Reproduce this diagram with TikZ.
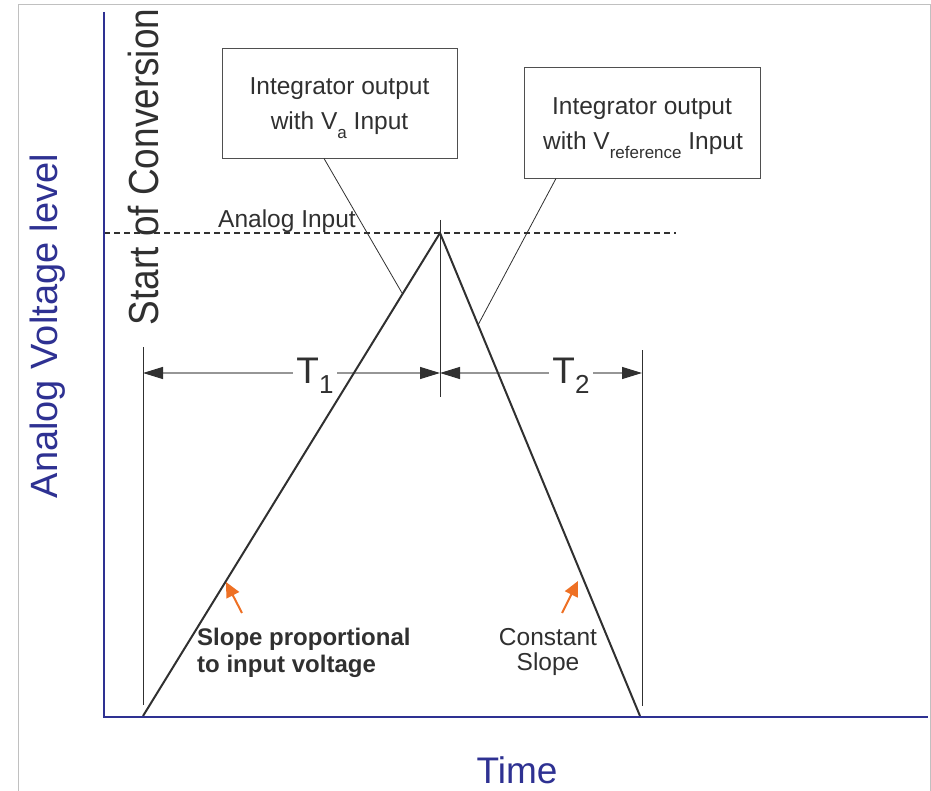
\documentclass[tikz,border=0pt]{standalone}
\usepackage{fontspec}
\setmainfont{Liberation Sans}
\usetikzlibrary{arrows.meta}
\definecolor{axblue}{RGB}{46,49,146}
\definecolor{dk}{RGB}{48,48,48}
\definecolor{org}{RGB}{238,112,36}
\definecolor{frm}{RGB}{192,192,192}
\definecolor{dimg}{RGB}{150,150,150}
\newcommand\mysub[1]{\raisebox{-9pt}{\fontsize{17}{17}\selectfont #1}}
\begin{document}
\begin{tikzpicture}[x=1pt,y=-1pt,
  boxst/.style={draw=dk!85, line width=0.9pt, minimum width=235pt, minimum height=110pt, inner sep=0pt},
  txt/.style={text=dk, font=\fontsize{24.5}{29}\selectfont, inner sep=0pt},
  bigblue/.style={text=axblue, inner sep=0pt},
  leader/.style={draw=dk, line width=0.8pt},
  vline/.style={draw=dk, line width=1pt},
  tri/.style={draw=dk, line width=2pt},
  dimst/.style={draw=dimg, line width=1.2pt, arrows={Triangle[length=20pt,width=12pt,color=dk]-Triangle[length=20pt,width=12pt,color=dk]}},
  tlab/.style={text=dk, fill=white, inner sep=3pt, font=\fontsize{37}{40}\selectfont},
  oarrow/.style={draw=org, line width=2pt, -{Triangle[length=15pt,width=14pt]}}
]
\useasboundingbox (0,0) rectangle (931,791);

% frame
\coordinate (f1) at (18,791);
\coordinate (f2) at (18,5);
\coordinate (f3) at (930,5);
\coordinate (f4) at (930,791);
\draw[frm, line width=1pt] (f1) -- (f2) -- (f3) -- (f4);

% axes
\coordinate (yt) at (104,12);
\coordinate (O) at (104,717);
\coordinate (xr) at (928,717);

% dotted analog input level
\coordinate (dl) at (104,233);
\coordinate (dr) at (676,233);
\draw[dk, line width=2pt, dash pattern=on 6pt off 4pt] (dl) -- (dr);

% vertical markers
\coordinate (v1t) at (143,347); \coordinate (v1b) at (143,705);
\coordinate (v2t) at (440,220); \coordinate (v2b) at (440,397);
\coordinate (v3t) at (642,350); \coordinate (v3b) at (642,706);
\draw[vline] (v1t) -- (v1b);
\draw[vline] (v2t) -- (v2b);
\draw[vline] (v3t) -- (v3b);

% dimension lines
\coordinate (d1l) at (143,373);
\coordinate (dm) at (440,373);
\coordinate (d2r) at (642,373);
\draw[dimst] (d1l) -- (dm);
\draw[dimst] (dm) -- (d2r);
\node[tlab, anchor=base] (T1) at (315,383) {T\raisebox{-10pt}{\fontsize{26}{26}\selectfont 1}};
\node[tlab, anchor=base] (T2) at (571,383) {T\raisebox{-10pt}{\fontsize{26}{26}\selectfont 2}};

% triangle
\coordinate (A) at (143,716);
\coordinate (P) at (440,233);
\coordinate (B) at (640,716);
\draw[tri, line join=miter] (A) -- (P) -- (B);

% axes drawn on top
\draw[axblue, line width=2.5pt] (yt) -- (O) -- (xr);

% boxes
\node[boxst] (box1) at (339.5,103) {};
\node[boxst, minimum width=236pt, minimum height=111pt] (box2) at (642,122.5) {};
\node[txt, anchor=base] (b1a) at (339.5,95) {Integrator output};
\node[txt, anchor=base] (b1b) at (339.5,130) {with V\mysub{a} Input};
\node[txt, anchor=base] (b2a) at (642,115) {Integrator output};
\node[txt, anchor=base] (b2b) at (643,150) {with V\mysub{reference} Input};

% leaders
\coordinate (l1) at (402,293);
\coordinate (l2) at (478,325);
\draw[leader] ([xshift=-15.5pt]box1.south) -- (l1);
\draw[leader] ([xshift=-86pt]box2.south) -- (l2);

% labels
\node[txt, anchor=base west] (ain) at (218,228) {Analog Input};
\node[txt, anchor=base, rotate=90, font=\fontsize{42}{44}\selectfont] (soc) at (158,167) {\scalebox{0.88}[1]{Start of Conversion}};
\node[bigblue, anchor=base, rotate=90, font=\fontsize{38}{40}\selectfont] (avl) at (57,326) {Analog Voltage level};
\node[bigblue, anchor=base, font=\fontsize{37}{40}\selectfont] (time) at (517,783) {Time};

% slope notes
\node[txt, anchor=base west, font=\fontsize{24}{29}\selectfont\bfseries] (s1) at (197,645) {Slope proportional};
\node[txt, anchor=base west, font=\fontsize{24}{29}\selectfont\bfseries] (s2) at (197,672) {to input voltage};
\node[txt, anchor=base] (c1) at (548,645) {Constant};
\node[txt, anchor=base] (c2) at (548,670) {Slope};

% orange arrows
\coordinate (o1t) at (242,613); \coordinate (o1h) at (226,582);
\coordinate (o2t) at (562,613); \coordinate (o2h) at (578,581);
\draw[oarrow] (o1t) -- (o1h);
\draw[oarrow] (o2t) -- (o2h);
\end{tikzpicture}
\end{document}
